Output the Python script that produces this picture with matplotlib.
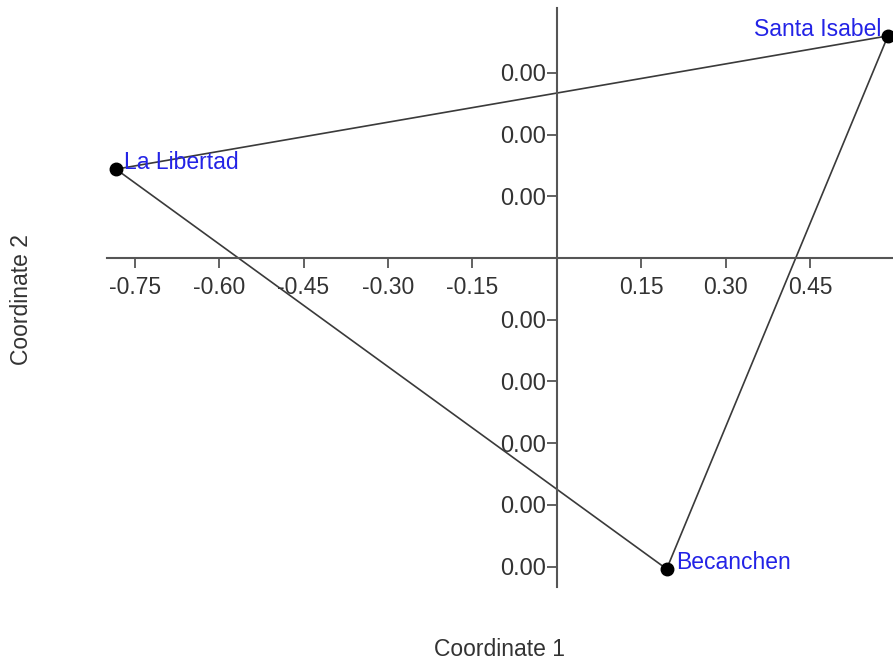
import matplotlib
matplotlib.use("Agg")
import matplotlib.pyplot as plt
import matplotlib.ticker as mticker

plt.rcParams["font.family"] = ["Liberation Sans", "DejaVu Sans"]

# PCoA coordinates
sites = ["La Libertad", "Santa Isabel", "Becanchen"]
coord1 = [-0.783, 0.588, 0.195]
coord2 = [0.00072, 0.00180, -0.00252]

x_ticks = [-0.75, -0.60, -0.45, -0.30, -0.15, 0.15, 0.30, 0.45]
y_ticks = [0.0015, 0.0010, 0.0005, -0.0005, -0.0010, -0.0015, -0.0020, -0.0025]

_AXIS = "#555555"
_LINE = "#3a3a3a"
_LABEL = "#2323e6"
_TEXT = "#333333"

fig = plt.figure(figsize=(8.93, 6.60), dpi=100)
ax = fig.add_axes([107 / 893, 1 - 587 / 660, 1 - 107 / 893, (587 - 8) / 660])
ax.set_xlim(-0.799, 0.597)
ax.set_ylim(-0.002666, 0.002026)

# triangle joining the three sites
ax.plot(coord1 + coord1[:1], coord2 + coord2[:1], color=_LINE, linewidth=1.2,
        zorder=2, clip_on=False)
ax.plot(coord1, coord2, "o", color="black", markersize=9, zorder=3, clip_on=False)

offsets = {"La Libertad": (8, "left"), "Santa Isabel": (-7, "right"), "Becanchen": (9, "left")}
for name, x, y in zip(sites, coord1, coord2):
    dx, ha = offsets[name]
    ax.annotate(name, (x, y), xytext=(dx, 0), textcoords="offset pixels",
                ha=ha, va="baseline", fontsize=16.5, color=_LABEL, zorder=4,
                annotation_clip=False)

for side in ("top", "right"):
    ax.spines[side].set_visible(False)
ax.spines["left"].set_position(("data", 0))
ax.spines["bottom"].set_position(("data", 0))
for side in ("left", "bottom"):
    ax.spines[side].set_color(_AXIS)
    ax.spines[side].set_linewidth(1.5)

ax.set_xticks(x_ticks)
ax.set_yticks(y_ticks)
ax.xaxis.set_major_formatter(mticker.FuncFormatter(lambda v, _: f"{v:.2f}"))
ax.yaxis.set_major_formatter(mticker.FuncFormatter(lambda v, _: f"{abs(v):.2f}"))
ax.tick_params(axis="x", direction="out", length=7, width=1.3, color=_AXIS,
               labelsize=16.5, labelcolor=_TEXT, pad=6)
ax.tick_params(axis="y", direction="out", length=7, width=1.3, color=_AXIS,
               labelsize=17, labelcolor=_TEXT, pad=1)

fig.text(500 / 893, 1 - 650 / 660, "Coordinate 1", ha="center", va="center",
         fontsize=16.5, color=_TEXT)
fig.text(22 / 893, 1 - 300 / 660, "Coordinate 2", ha="center", va="center",
         rotation=90, fontsize=16.5, color=_TEXT)

fig.savefig("out.png", dpi=100, facecolor="white")
